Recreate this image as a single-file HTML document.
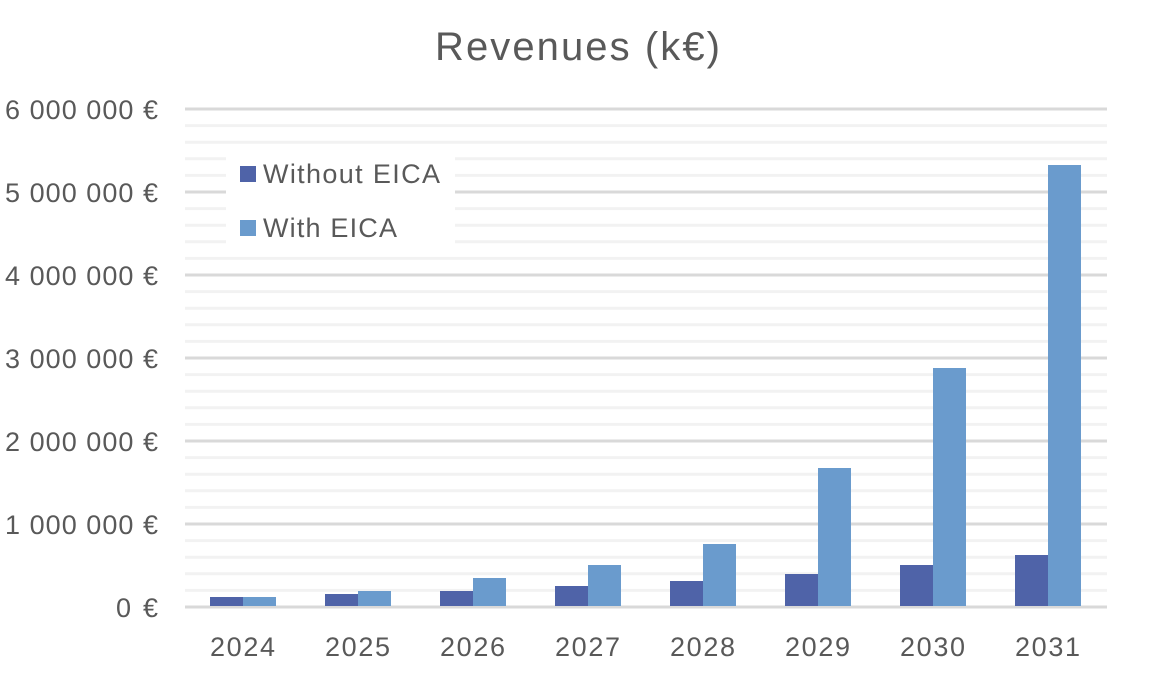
<!DOCTYPE html>
<html><head><meta charset="utf-8"><style>
html,body{margin:0;padding:0;background:#fff;}
svg{display:block;font-family:"Liberation Sans",sans-serif;}
</style></head><body>
<svg width="1152" height="678" viewBox="0 0 1152 678">
<text x="435" y="60" font-size="40" fill="#595959" textLength="285" lengthAdjust="spacing">Revenues (k€)</text>
<g stroke="#f2f2f2" stroke-width="3">
<line x1="185" x2="1107" y1="590.4" y2="590.4"/><line x1="185" x2="1107" y1="573.8" y2="573.8"/><line x1="185" x2="1107" y1="557.2" y2="557.2"/><line x1="185" x2="1107" y1="540.6" y2="540.6"/>
<line x1="185" x2="1107" y1="507.4" y2="507.4"/><line x1="185" x2="1107" y1="490.8" y2="490.8"/><line x1="185" x2="1107" y1="474.2" y2="474.2"/><line x1="185" x2="1107" y1="457.6" y2="457.6"/>
<line x1="185" x2="1107" y1="424.4" y2="424.4"/><line x1="185" x2="1107" y1="407.8" y2="407.8"/><line x1="185" x2="1107" y1="391.2" y2="391.2"/><line x1="185" x2="1107" y1="374.6" y2="374.6"/>
<line x1="185" x2="1107" y1="341.4" y2="341.4"/><line x1="185" x2="1107" y1="324.8" y2="324.8"/><line x1="185" x2="1107" y1="308.2" y2="308.2"/><line x1="185" x2="1107" y1="291.6" y2="291.6"/>
<line x1="185" x2="1107" y1="258.4" y2="258.4"/><line x1="185" x2="1107" y1="241.8" y2="241.8"/><line x1="185" x2="1107" y1="225.2" y2="225.2"/><line x1="185" x2="1107" y1="208.6" y2="208.6"/>
<line x1="185" x2="1107" y1="175.4" y2="175.4"/><line x1="185" x2="1107" y1="158.8" y2="158.8"/><line x1="185" x2="1107" y1="142.2" y2="142.2"/><line x1="185" x2="1107" y1="125.6" y2="125.6"/>
</g>
<g stroke="#d9d9d9" stroke-width="3">
<line x1="185" x2="1107" y1="524" y2="524"/><line x1="185" x2="1107" y1="441" y2="441"/><line x1="185" x2="1107" y1="358" y2="358"/><line x1="185" x2="1107" y1="275" y2="275"/><line x1="185" x2="1107" y1="192" y2="192"/><line x1="185" x2="1107" y1="109" y2="109"/>
<line x1="185" x2="1107" y1="607" y2="607"/>
</g>
<g font-size="27" fill="#595959">
<text x="116" y="617" textLength="42" lengthAdjust="spacing">0 €</text>
<text x="5" y="534" textLength="153" lengthAdjust="spacing">1 000 000 €</text>
<text x="5" y="451" textLength="153" lengthAdjust="spacing">2 000 000 €</text>
<text x="5" y="368" textLength="153" lengthAdjust="spacing">3 000 000 €</text>
<text x="5" y="285" textLength="153" lengthAdjust="spacing">4 000 000 €</text>
<text x="5" y="202" textLength="153" lengthAdjust="spacing">5 000 000 €</text>
<text x="5" y="119" textLength="153" lengthAdjust="spacing">6 000 000 €</text>
</g>
<g fill="#4f63a8">
<rect x="210" y="597" width="33" height="9"/><rect x="325" y="594" width="33" height="12"/><rect x="440" y="591" width="33" height="15"/><rect x="555" y="586" width="33" height="20"/><rect x="670" y="581" width="33" height="25"/><rect x="785" y="574" width="33" height="32"/><rect x="900" y="565" width="33" height="41"/><rect x="1015" y="555" width="33" height="51"/>
</g>
<g fill="#6a9bcd">
<rect x="243" y="597" width="33" height="9"/><rect x="358" y="591" width="33" height="15"/><rect x="473" y="578" width="33" height="28"/><rect x="588" y="565" width="33" height="41"/><rect x="703" y="544" width="33" height="62"/><rect x="818" y="468" width="33" height="138"/><rect x="933" y="368" width="33" height="238"/><rect x="1048" y="165" width="33" height="441"/>
</g>
<g font-size="27" fill="#595959">
<text x="210" y="656" textLength="65" lengthAdjust="spacing">2024</text><text x="325" y="656" textLength="65" lengthAdjust="spacing">2025</text><text x="440" y="656" textLength="65" lengthAdjust="spacing">2026</text><text x="555" y="656" textLength="65" lengthAdjust="spacing">2027</text><text x="670" y="656" textLength="65" lengthAdjust="spacing">2028</text><text x="785" y="656" textLength="65" lengthAdjust="spacing">2029</text><text x="900" y="656" textLength="65" lengthAdjust="spacing">2030</text><text x="1015" y="656" textLength="65" lengthAdjust="spacing">2031</text>
</g>
<rect x="226" y="150" width="229" height="96" fill="#fff"/>
<rect x="240" y="166" width="16" height="16" fill="#4f63a8"/>
<text x="263" y="183" font-size="27" fill="#595959" textLength="177" lengthAdjust="spacing">Without EICA</text>
<rect x="240" y="220" width="16" height="16" fill="#6a9bcd"/>
<text x="263" y="237" font-size="27" fill="#595959" textLength="134" lengthAdjust="spacing">With EICA</text>
</svg>
</body></html>
